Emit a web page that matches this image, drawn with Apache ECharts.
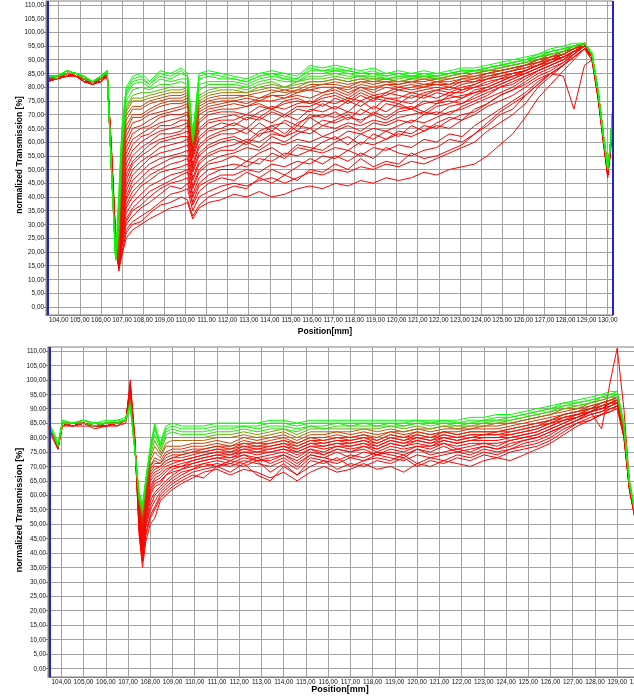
<!DOCTYPE html>
<html><head><meta charset="utf-8">
<script src="https://cdn.jsdelivr.net/npm/echarts@6/dist/echarts.min.js"></script>
<style>html,body{margin:0;padding:0;background:#fff}#c{width:634px;height:700px}</style>
</head><body><div id="c"></div>
<script>
// ---------- tick labels ----------
const X_TICKS = [104,105,106,107,108,109,110,111,112,113,114,115,116,117,118,119,120,121,122,123,124,125,126,127,128,129,130];
const Y_TICKS = [0,5,10,15,20,25,30,35,40,45,50,55,60,65,70,75,80,85,90,95,100,105,110];

// ---------- top panel: positions [mm] ----------
const TOP_X = [103.45,103.9,104.4,104.8,105.2,105.6,106.0,106.3, 106.5,106.7,106.85,107.0,107.2,107.5, 107.9,108.3,108.8,109.3,109.8,110.1, 110.35, 110.65,111.1,111.7, 112.3,112.9,113.5,114.1,114.7,115.3,115.9,116.5, 117.1,117.7,118.3,118.9,119.5,120.1,120.7,121.3, 121.9,122.5,123.1,123.7,124.3,124.9, 125.5,126.1,126.7,127.3, 127.9,128.4,128.9, 129.25,129.55,129.8,130.0,130.12,130.25];

// top panel curves [%]
const T0  = [82,83,84,84,82,81,82,84, 58,26,14,19,25,28, 30,32,34,36,37,38, 32, 36,38,39, 41,40,42,40,41,43,44,43, 45,44,46,45,47,46,47,49, 48,50,51,52,55,59, 63,69,76,81, 86,90,94, 90,75,59,47,55,70];
const U0  = [83,83,84,85,82,81,82,84, 57,25,13,20,27,30, 31,34,37,38,40,39, 33, 37,40,42, 44,43,47,45,48,46,50,49, 52,50,54,51,53,52,56,54, 55,57,59,63,66,70, 72,77,81,85, 88,91,94, 90,76,60,48,56,71];
const T1  = [83,83,85,84,82,82,83,85, 56,24,15,22,28,31, 33,35,38,41,42,43, 35, 40,42,44, 45,44,46,47,45,47,49,48, 50,49,51,50,52,51,53,52, 54,56,58,60,64,67, 70,74,80,84, 88,91,94, 91,76,60,48,56,71];
const U1  = [82,83,85,84,83,82,83,84, 56,24,14,23,30,33, 36,38,41,44,43,45, 37, 42,45,47, 46,49,47,50,48,51,54,52, 55,53,56,54,58,56,55,57, 58,61,60,63,67,71, 74,77,81,85, 88,91,94, 91,76,60,48,56,71];
const T2  = [82,84,85,85,83,81,83,85, 57,25,14,24,31,35, 37,40,43,45,46,47, 38, 44,46,48, 48,50,49,52,51,53,52,55, 54,57,55,58,57,59,58,61, 60,63,62,66,69,72, 75,78,82,85, 88,92,95, 91,77,60,48,57,71];
const U2  = [83,84,85,85,82,82,83,85, 56,24,15,25,32,36, 39,42,44,46,48,49, 40, 45,48,50, 50,53,52,56,54,58,57,60, 62,59,63,61,64,62,66,64, 67,69,68,72,74,77, 79,81,84,86, 89,92,95, 91,77,61,49,57,72];
const T3  = [83,83,84,85,82,82,82,84, 55,23,15,26,34,38, 41,44,46,48,49,50, 41, 47,50,51, 52,51,54,53,56,55,57,56, 58,57,60,59,61,63,62,64, 66,65,68,70,73,75, 77,80,83,85, 84,72,88, 90,76,61,49,57,72];
const U3  = [83,83,84,84,83,82,83,84, 55,23,15,27,36,40, 44,46,49,50,51,52, 43, 49,52,53, 55,53,56,58,55,59,58,57, 60,62,59,63,61,64,63,66, 65,68,70,71,74,77, 79,82,85,87, 89,92,95, 91,77,61,49,57,72];
const T4  = [83,84,85,84,83,82,83,85, 54,22,15,28,37,42, 45,48,50,52,53,54, 44, 50,53,55, 56,58,57,60,59,61,60,62, 61,64,63,65,64,66,68,67, 69,71,72,74,76,78, 80,83,86,88, 90,92,95, 91,77,61,49,57,72];
const U4  = [83,84,85,85,83,82,83,85, 54,22,14,29,39,44, 47,50,52,54,55,55, 46, 52,55,57, 57,60,58,62,60,63,65,62, 64,66,64,67,66,68,67,70, 71,70,73,75,77,80, 81,84,86,88, 90,93,95, 91,77,61,49,57,72];
const T5  = [82,83,85,85,83,81,83,84, 55,23,14,30,40,46, 49,52,54,55,56,57, 47, 53,56,58, 59,61,60,63,62,64,63,66, 65,67,66,68,67,69,70,71, 70,73,74,76,78,80, 82,84,86,88, 90,93,95, 92,77,61,49,57,72];
const U5  = [82,83,85,84,83,81,83,85, 54,22,15,32,42,48, 51,54,56,57,58,59, 49, 55,58,60, 61,59,63,64,62,66,65,68, 67,69,68,70,68,71,72,70, 73,74,76,78,79,81, 83,85,87,89, 91,93,95, 92,78,61,49,58,72];
const T6  = [83,84,84,85,82,82,83,85, 53,21,15,33,44,50, 53,55,58,59,60,61, 50, 56,59,61, 62,60,64,66,63,67,69,66, 68,70,67,71,69,72,73,71, 74,75,74,77,79,81, 83,85,87,89, 91,93,95, 92,78,61,49,58,72];
const U6  = [83,84,85,85,83,82,83,85, 53,21,15,35,46,52, 55,57,60,61,62,62, 51, 58,61,63, 63,65,62,66,67,64,69,70, 69,71,70,73,71,74,72,74, 75,76,77,78,80,82, 84,86,88,89, 91,93,95, 92,78,62,49,58,73];
const T7  = [83,83,85,84,83,82,82,84, 54,22,16,36,48,53, 56,59,61,62,63,64, 52, 59,62,64, 65,63,67,64,68,66,70,69, 71,68,72,70,74,73,72,75, 74,77,76,79,80,82, 84,85,87,89, 91,93,95, 92,78,62,49,58,73];
const U7  = [83,83,85,84,83,82,83,84, 53,21,16,38,50,55, 58,60,63,63,64,66, 54, 61,64,65, 67,65,69,67,70,68,72,71, 73,71,75,72,76,75,74,77, 76,78,78,80,81,83, 85,86,88,90, 91,93,95, 92,78,62,50,58,73];
const T8  = [83,84,85,85,83,82,83,85, 52,21,16,40,52,57, 60,62,64,65,66,67, 55, 62,65,67, 66,69,68,71,69,72,71,74, 72,75,73,76,75,74,77,76, 78,77,79,80,82,83, 84,86,88,90, 91,93,95, 92,78,62,50,58,73];
const U8  = [84,84,85,85,83,82,83,85, 52,20,16,42,54,59, 62,63,66,66,68,68, 56, 64,67,68, 68,70,69,72,70,73,73,75, 74,76,75,77,76,76,78,77, 79,78,80,81,83,84, 85,86,88,90, 92,94,95, 92,78,62,50,58,73];
const T9  = [84,83,85,85,83,82,83,85, 52,20,17,44,56,61, 63,65,67,68,69,70, 57, 65,68,69, 70,68,71,73,72,74,75,73, 76,74,77,75,78,77,76,78, 79,80,79,81,83,84, 85,86,88,90, 92,94,95, 92,78,62,50,58,73];
const U9  = [83,84,85,85,83,82,83,85, 52,20,17,46,58,63, 65,66,69,70,70,71, 57, 67,70,71, 71,70,73,72,74,75,74,76, 77,75,78,76,77,79,78,79, 80,79,81,82,83,85, 86,87,88,90, 92,94,96, 92,78,62,50,58,73];
const T10 = [83,84,85,84,83,82,83,85, 51,20,18,48,60,65, 66,68,70,71,72,73, 58, 68,71,72, 72,73,74,72,75,76,74,77, 78,76,79,77,78,80,79,80, 81,80,82,82,84,85, 86,87,89,90, 92,94,96, 92,78,62,50,58,73];
const V0  = [84,84,85,85,83,82,83,85, 51,19,19,50,62,67, 68,70,71,72,73,74, 58, 70,72,73, 74,73,75,75,76,77,76,78, 79,77,80,78,80,79,80,81, 81,81,82,83,84,85, 86,88,89,91, 92,94,96, 92,78,62,50,58,73];
const T11 = [84,84,85,85,83,82,84,85, 51,19,20,52,64,69, 69,71,73,74,74,75, 59, 71,73,74, 75,74,76,77,76,78,79,78, 80,78,80,79,81,80,81,80, 82,81,83,83,85,86, 87,88,89,91, 92,94,96, 92,78,62,50,58,73];
const V1  = [83,84,85,85,83,82,84,85, 50,19,21,53,66,70, 70,72,74,75,75,76, 59, 72,74,75, 75,76,75,77,77,79,79,80, 80,79,81,80,81,81,82,81, 82,82,83,84,85,86, 87,88,90,91, 92,94,96, 92,78,62,50,58,73];
const T12 = [83,84,86,85,84,82,83,85, 50,18,23,55,68,72, 72,74,75,76,76,77, 59, 73,75,76, 76,77,76,78,79,78,80,81, 81,80,82,81,82,81,82,83, 82,83,84,84,85,86, 87,88,90,91, 93,94,96, 92,78,62,50,58,73];
const V2  = [84,84,85,85,84,82,83,85, 50,18,24,56,70,73, 73,75,76,77,77,78, 59, 74,76,77, 77,77,78,79,78,79,81,81, 82,81,82,82,82,82,82,82, 83,83,84,85,86,86, 87,88,90,91, 93,94,96, 92,78,62,50,58,73];
const T13 = [84,84,85,85,83,82,84,85, 50,18,26,57,71,75, 75,76,77,78,78,79, 60, 75,77,78, 78,78,79,80,79,80,82,82, 83,82,83,82,83,82,83,83, 83,84,85,85,86,87, 88,89,90,92, 93,95,96, 92,78,62,50,58,73];
const V3  = [84,84,86,85,83,82,84,85, 50,18,27,58,72,76, 76,77,78,79,79,80, 60, 76,78,79, 79,78,80,81,80,81,82,82, 83,82,83,83,83,82,83,84, 83,84,85,85,86,87, 88,89,91,92, 93,95,96, 92,78,62,50,58,73];
const T14 = [84,83,86,85,83,82,83,86, 50,18,29,59,73,77, 78,78,79,80,80,80, 60, 77,79,80, 80,79,81,82,80,82,83,83, 84,83,84,83,83,83,84,84, 83,84,85,86,86,87, 88,89,91,92, 93,95,96, 92,78,62,50,58,73];
const T15 = [84,84,85,85,84,82,84,85, 50,17,32,61,75,79, 80,79,81,81,82,81, 61, 79,81,81, 81,80,82,83,82,82,84,84, 85,84,84,84,83,84,83,84, 84,85,85,86,87,88, 88,89,91,92, 93,95,96, 92,78,62,50,58,74];
const T16 = [84,84,86,85,84,82,84,86, 50,17,35,62,77,81, 82,80,83,82,83,83, 61, 81,82,82, 82,81,83,84,83,82,85,85, 86,85,84,85,83,84,84,84, 84,85,86,86,87,88, 89,90,91,93, 94,95,96, 92,78,62,51,58,74];
const T17 = [84,84,86,85,84,82,84,86, 50,17,37,64,78,82, 83,81,84,83,85,84, 62, 83,84,83, 83,82,84,85,83,83,86,86, 86,86,85,85,84,85,84,85, 84,85,86,86,87,88, 89,90,91,93, 94,95,96, 92,78,62,51,58,74];
const T18 = [84,84,86,85,84,82,84,86, 50,17,40,65,79,83, 84,81,85,84,86,84, 62, 84,85,84, 83,82,84,85,84,83,87,86, 87,86,85,86,84,85,84,85, 84,85,86,86,87,88, 89,90,92,93, 94,95,96, 92,78,62,51,58,74];
const T19 = [84,84,86,85,84,82,84,86, 50,17,42,66,80,84, 85,82,86,85,87,85, 63, 85,86,85, 84,83,85,86,85,84,88,87, 88,87,86,87,85,86,85,86, 85,86,87,87,88,89, 90,91,92,94, 95,96,96, 93,79,63,51,59,75];
// drawn in order: lowest (red) first, highest (green) last
const TOP_LINES = [T0,U0,T1,U1,T2,U2,T3,U3,T4,U4,T5,U5,T6,U6,T7,U7,T8,U8,T9,U9,T10,V0,T11,V1,T12,V2,T13,V3,T14,T15,T16,T17,T18,T19];

// ---------- bottom panel: positions [mm] ----------
const BOT_X = [103.45,103.65,103.85,104.05,104.5,105.0,105.5,106.0,106.5,106.9, 107.1,107.3,107.5,107.65,107.8, 108.0,108.2,108.45,108.7,109.0, 109.4,109.9,110.4,111.0,111.6,112.2,112.8,113.4, 114.0,114.6,115.2,115.8,116.4,117.0,117.6,118.2, 118.8,119.4,120.0,120.6,121.2,121.8,122.4,123.0, 123.6,124.2,124.8,125.4,126.0,126.6, 127.2,127.8,128.3,128.7,129.0, 129.3,129.55,129.8,130.1];

const B0  = [83,79,76,84,84,85,84,84,84,86, 98,80,46,35,44, 50,52,58,60,62, 64,66,68,69,67,69,68,66, 68,65,68,70,68,69,71,69, 70,68,71,70,72,71,70,72, 73,72,74,76,78,81, 84,86,88,89,90, 80,62,52,50];
const W0  = [84,80,77,85,84,85,84,84,85,86, 97,80,47,37,46, 52,55,59,61,63, 65,67,66,70,68,71,67,65, 70,67,70,72,69,71,70,72, 71,73,70,72,71,73,72,74, 73,75,76,77,79,82, 85,86,88,89,91, 80,62,52,50];
const B1  = [84,80,77,85,84,85,83,84,85,86, 95,79,48,38,47, 53,56,60,62,64, 66,68,69,70,71,70,72,68, 71,67,72,71,73,70,72,73, 72,74,71,73,72,74,73,75, 74,76,77,78,80,83, 85,87,88,90,91, 81,62,52,50];
const W1  = [83,80,76,85,84,85,84,84,85,86, 96,79,49,39,49, 55,58,61,63,65, 67,69,70,71,70,72,71,70, 72,69,73,72,71,73,72,74, 73,72,74,73,74,75,74,76, 75,76,78,79,81,84, 86,88,89,90,91, 81,62,52,50];
const B2  = [83,80,76,85,84,84,84,85,84,85, 100,80,50,40,50, 56,60,62,64,66, 68,69,71,70,72,71,73,71, 73,70,74,73,72,74,73,75, 74,73,76,74,75,76,75,77, 76,77,79,80,82,84, 86,89,83,100,111, 90,65,53,50];
const W2  = [84,80,77,85,84,85,84,84,85,86, 99,80,51,41,51, 58,61,63,65,67, 69,70,71,72,71,73,72,72, 74,71,74,73,75,73,75,74, 75,74,76,75,77,75,76,77, 76,78,79,80,82,84, 86,88,89,91,92, 81,63,53,51];
const B3  = [84,80,77,84,85,85,84,84,85,86, 96,79,52,42,52, 60,63,64,67,68, 69,71,72,73,72,74,72,73, 74,72,75,74,76,75,76,74, 76,75,77,76,78,76,77,78, 77,79,80,81,83,85, 87,89,90,91,92, 81,63,53,51];
const W3  = [84,80,77,85,84,85,84,84,85,86, 96,79,52,43,53, 61,64,65,67,69, 70,71,72,73,73,74,73,74, 75,73,76,74,76,75,77,75, 77,76,77,77,78,77,78,78, 78,79,80,81,83,85, 87,89,90,91,92, 82,63,53,51];
const B4  = [84,80,77,85,84,85,84,84,85,86, 97,79,53,44,54, 62,65,66,68,70, 70,72,73,74,73,75,74,75, 76,74,76,75,77,76,77,76, 78,77,78,77,79,78,79,79, 79,80,81,82,84,86, 87,89,90,92,92, 82,63,53,51];
const W4  = [84,80,77,85,84,85,84,85,85,86, 95,78,54,45,55, 63,66,67,69,70, 71,72,73,74,74,75,75,75, 76,75,77,76,77,77,78,76, 78,77,79,78,79,78,79,80, 80,80,81,82,84,86, 87,89,90,92,92, 82,63,53,51];
const B5  = [84,81,77,85,84,85,84,85,85,86, 94,78,54,46,56, 65,67,68,70,71, 72,73,74,75,74,76,75,76, 77,75,77,77,78,77,78,77, 79,78,79,78,80,79,80,80, 80,81,82,83,85,86, 88,89,91,92,93, 82,63,53,51];
const W5  = [84,81,77,85,84,85,84,85,85,86, 94,78,55,47,57, 66,68,69,71,72, 72,73,74,75,75,76,76,76, 77,76,78,77,78,78,79,77, 79,78,80,79,80,79,80,81, 81,81,82,83,85,87, 88,89,91,92,93, 82,63,53,51];
const B6  = [84,80,77,85,84,85,84,84,85,86, 95,78,55,48,58, 67,69,70,72,73, 73,74,75,76,75,77,76,77, 78,76,78,78,79,78,79,78, 80,79,80,79,81,80,81,81, 81,82,83,84,85,87, 88,90,91,92,93, 82,64,53,51];
const W6  = [84,80,77,85,84,85,84,84,85,86, 94,78,56,49,59, 68,70,70,72,73, 74,75,75,76,76,77,77,77, 78,77,79,78,79,79,80,78, 80,79,81,80,81,80,81,81, 82,82,83,84,86,87, 88,90,91,92,93, 83,64,54,51];
const B7  = [84,81,77,85,84,85,84,85,85,86, 93,78,56,50,60, 69,71,71,73,74, 74,75,76,77,76,78,77,78, 79,77,79,79,80,79,80,79, 81,80,81,80,82,81,82,82, 82,83,84,85,86,88, 89,90,92,93,93, 83,64,54,51];
const W7  = [84,81,77,85,84,85,84,85,85,86, 93,78,57,50,61, 70,72,71,74,75, 75,76,76,77,77,78,78,78, 79,78,80,79,80,80,81,79, 81,80,82,81,82,81,82,82, 82,83,84,85,86,88, 89,90,92,93,94, 83,64,54,51];
const B8  = [84,80,77,85,84,85,84,85,85,86, 94,78,57,51,61, 70,73,72,75,76, 76,77,77,78,77,79,78,79, 80,78,80,80,81,80,81,80, 82,81,82,81,82,82,83,83, 83,84,85,86,87,88, 89,91,92,93,94, 83,64,54,51];
const B9  = [84,81,77,85,85,85,84,85,85,86, 92,77,58,52,62, 72,75,73,77,77, 77,78,78,79,78,80,79,80, 81,79,81,81,82,81,82,81, 82,82,83,82,83,83,83,84, 84,85,86,87,88,89, 90,91,92,93,94, 83,64,54,51];
const B10 = [84,81,77,85,85,85,84,85,85,86, 93,77,58,53,63, 73,77,74,78,79, 79,79,79,80,80,81,80,81, 82,80,82,82,82,82,83,82, 83,82,83,83,84,83,84,84, 85,85,86,87,88,90, 90,92,93,94,94, 83,64,54,51];
const B11 = [84,81,77,85,85,85,84,85,85,86, 92,77,59,54,64, 74,79,75,80,80, 80,80,80,81,81,82,81,82, 83,81,83,83,83,83,83,83, 84,83,84,83,84,84,84,85, 85,86,87,88,89,90, 91,92,93,94,95, 84,64,54,51];
const B12 = [84,81,77,85,85,86,84,85,85,86, 91,76,59,55,64, 75,81,76,81,82, 81,81,81,82,82,83,82,83, 83,82,84,83,84,84,84,84, 84,84,85,84,85,84,85,85, 86,86,87,88,89,91, 91,92,94,94,95, 84,64,54,51];
const B13 = [84,81,77,85,85,86,85,85,85,86, 91,76,60,56,65, 76,83,77,82,83, 82,82,82,83,83,84,83,84, 84,83,84,84,85,84,85,84, 85,84,85,85,85,85,85,86, 86,87,88,89,90,91, 92,93,94,95,95, 84,64,54,51];
const B14 = [85,81,77,86,85,86,85,85,86,86, 91,76,60,56,65, 76,84,77,83,84, 83,83,83,84,84,84,84,85, 85,84,85,85,85,85,85,85, 85,85,86,85,86,85,86,86, 87,87,88,89,90,92, 92,93,94,95,96, 85,65,55,52];
const B15 = [85,82,78,86,85,86,85,86,86,87, 91,76,61,57,66, 77,85,78,84,85, 84,84,84,85,85,85,85,86, 86,85,86,86,86,86,86,86, 86,86,86,86,86,86,87,87, 88,88,89,90,91,92, 93,94,95,96,96, 85,65,55,52];
const BOT_LINES = [B0,W0,B1,W1,B2,W2,B3,W3,B4,W4,B5,W5,B6,W6,B7,W7,B8,B9,B10,B11,B12,B13,B14,B15];

// ---------- styling ----------
const STOPS = [[0,[255,0,0]],[0.5,[245,10,0]],[0.66,[220,40,5]],[0.76,[190,75,10]],[0.81,[130,150,10]],[0.87,[40,225,10]],[1,[0,255,0]]];
function rampColor(t){
  for(let k=1;k<STOPS.length;k++){
    if(t<=STOPS[k][0]){
      const a=STOPS[k-1], b=STOPS[k], f=(t-a[0])/(b[0]-a[0]);
      const c=a[1].map((v,j)=>Math.round(v+(b[1][j]-v)*f));
      return 'rgb('+c.join(',')+')';
    }
  }
  return 'rgb(0,255,0)';
}
const fmt = v => v.toFixed(2).replace('.', ',');
const GRID_COLOR = '#a2a2a2';
const BLUE = '#2323c8';
const X_MIN = 103.4, X_MAX = 130.25, Y_MIN = -3, Y_MAX = 111.4;

function xAxisFor(g){
  return {type:'value', gridIndex:g, min:X_MIN, max:X_MAX,
    axisLine:{show:true, onZero:false, lineStyle:{color:'#808080'}},
    axisTick:{show:false, customValues:X_TICKS},
    axisLabel:{show:false, customValues:X_TICKS},
    splitLine:{show:true, lineStyle:{color:GRID_COLOR, width:1}}};
}
function yAxisFor(g){
  return {type:'value', gridIndex:g, min:Y_MIN, max:Y_MAX,
    axisLine:{show:true, lineStyle:{color:'#808080'}},
    axisTick:{show:true, length:2, customValues:Y_TICKS, lineStyle:{color:'#808080'}},
    axisLabel:{show:false, customValues:Y_TICKS},
    splitLine:{show:true, lineStyle:{color:GRID_COLOR, width:1}}};
}

const series = [];
function addPanel(xs, lines, g, blueXs){
  const n = lines.length;
  lines.forEach((vals, i) => {
    const s = {type:'line', xAxisIndex:g, yAxisIndex:g, showSymbol:false, symbol:'none', silent:true,
      lineStyle:{width:1, color:rampColor(i/(n-1))}, data: xs.map((x,k)=>[x, vals[k]])};
    if(i===n-1){
      s.markLine = {silent:true, symbol:['none','none'], label:{show:false}, z:20,
        lineStyle:{color:BLUE, width:2, type:'solid'}, data: blueXs.map(v=>({xAxis:v}))};
    }
    series.push(s);
  });
}
addPanel(TOP_X, TOP_LINES, 0, [103.48, 130.22]);
addPanel(BOT_X, BOT_LINES, 1, [103.47]);

const titleFont1 = 'bold 8.5px Liberation Sans, Arial';
const titleFont2 = 'bold 9px Liberation Sans, Arial';

const chart = echarts.init(document.getElementById('c'), null, {renderer:'canvas'});
chart.setOption({
  animation:false,
  backgroundColor:'#fff',
  grid:[
    {left:46, top:1, width:567, height:314, outerBoundsMode:'none', containLabel:false, show:true, borderColor:'#808080', borderWidth:1, backgroundColor:'#fff'},
    {left:48, top:347, width:597, height:330, outerBoundsMode:'none', containLabel:false, show:true, borderColor:'#808080', borderWidth:1, backgroundColor:'#fff'}
  ],
  xAxis:[xAxisFor(0), xAxisFor(1)],
  yAxis:[yAxisFor(0), yAxisFor(1)],
  series: series
});

// condensed tick labels placed through the axes' own scales
const graphics = [
  {type:'text', x:20, y:155, rotation:Math.PI/2, silent:true, style:{text:'normalized Transmission [%]', font:titleFont1, fill:'#000', textAlign:'center', textVerticalAlign:'middle'}},
  {type:'text', x:20, y:510, rotation:Math.PI/2, silent:true, style:{text:'normalized Transmission [%]', font:titleFont2, fill:'#000', textAlign:'center', textVerticalAlign:'middle'}},
  {type:'text', x:325, y:332, silent:true, style:{text:'Position[mm]', font:titleFont1, fill:'#000', textAlign:'center', textVerticalAlign:'middle'}},
  {type:'text', x:340, y:690, silent:true, style:{text:'Position[mm]', font:titleFont2, fill:'#000', textAlign:'center', textVerticalAlign:'middle'}}
];
const tickFont = '8px Liberation Sans, Arial';
[0,1].forEach(gi => {
  X_TICKS.forEach(v => {
    const p = chart.convertToPixel({gridIndex:gi}, [v, Y_MIN]);
    graphics.push({type:'text', x:p[0], y:p[1] + 4.5, scaleX:0.8, silent:true,
      style:{text:fmt(v), font:tickFont, fill:'#111', textAlign:'center', textVerticalAlign:'middle'}});
  });
  Y_TICKS.forEach(v => {
    const p = chart.convertToPixel({gridIndex:gi}, [X_MIN, v]);
    graphics.push({type:'text', x:p[0] - 2, y:p[1], scaleX:0.8, silent:true,
      style:{text:fmt(v), font:tickFont, fill:'#111', textAlign:'right', textVerticalAlign:'middle'}});
  });
});
chart.setOption({graphic: graphics});
</script>
</body></html>
